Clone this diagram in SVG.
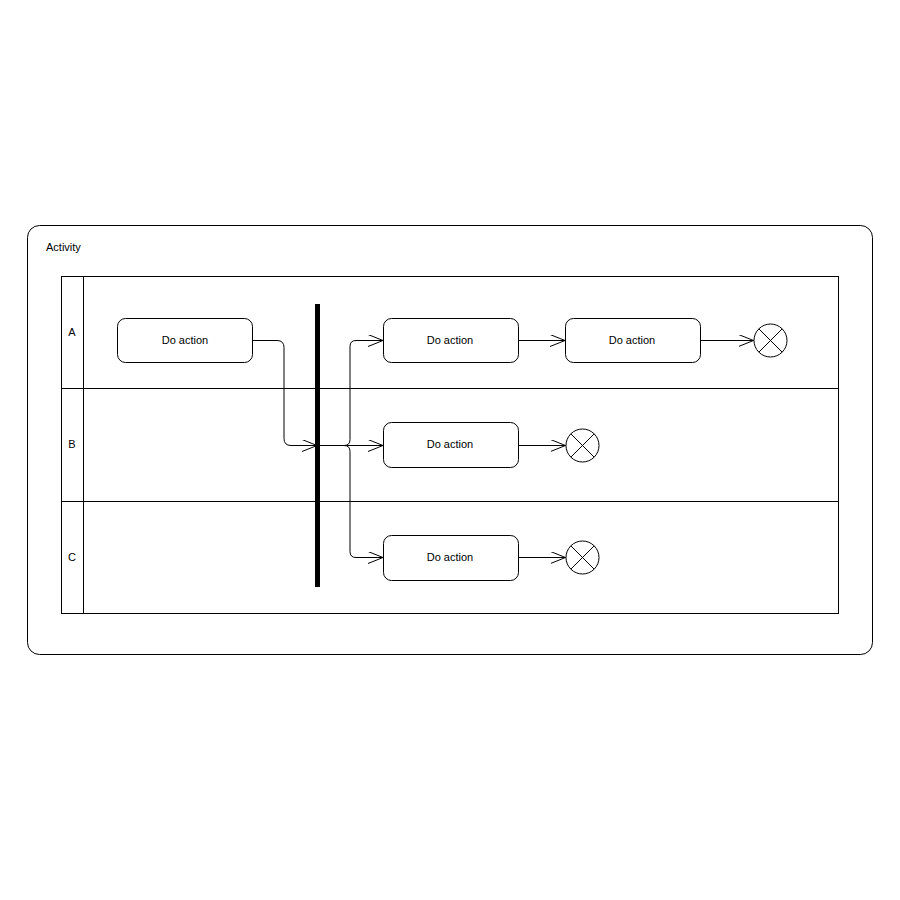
<svg xmlns="http://www.w3.org/2000/svg" width="900" height="900" viewBox="0 0 900 900">
<defs>
<marker id="open" viewBox="0 0 16 12" refX="15" refY="6" markerWidth="16" markerHeight="12" markerUnits="userSpaceOnUse" orient="auto">
<path d="M0,0 L15,6 L0,12" fill="none" stroke="#000" stroke-width="1"/>
</marker>
<g id="finalSym">
<circle cx="0" cy="0" r="16.5" fill="#fff" stroke="#000" stroke-width="1"/>
<path d="M-11.7,-11.7 L11.7,11.7 M-11.7,11.7 L11.7,-11.7" stroke="#000" stroke-width="1"/>
</g>
</defs>
<style>
text{font-family:"Liberation Sans",Arial,sans-serif;font-size:11px;fill:#000}
.act{fill:#fff;stroke:#000;stroke-width:1}
.ln{fill:none;stroke:#000;stroke-width:1}
.edge{fill:none;stroke:#000;stroke-width:1;marker-end:url(#open)}
</style>
<rect width="900" height="900" fill="#fff"/>
<g id="frame">
<rect x="27.5" y="225.5" width="845" height="429" rx="12" class="ln"/>
<text x="46" y="251">Activity</text>
</g>
<g id="pool">
<rect x="61.5" y="276.5" width="777" height="337" class="ln"/>
<line x1="83.5" y1="276.5" x2="83.5" y2="613.5" class="ln"/>
<line x1="61.5" y1="388.5" x2="838.5" y2="388.5" class="ln"/>
<line x1="61.5" y1="501.5" x2="838.5" y2="501.5" class="ln"/>
</g>
<g id="laneA"><text x="72" y="336" text-anchor="middle">A</text></g>
<g id="laneB"><text x="72" y="448" text-anchor="middle">B</text></g>
<g id="laneC"><text x="72" y="561" text-anchor="middle">C</text></g>
<g id="connectors">
<path class="edge" d="M252,340.5 H277 Q284,340.5 284,347.5 V438.5 Q284,445.5 291,445.5 H317"/>
<path class="edge" d="M317,445.5 H344 Q350,445.5 350,439.5 V346.5 Q350,340.5 356,340.5 H383"/>
<path class="edge" d="M317,445.5 H383"/>
<path class="edge" d="M317,445.5 H344 Q350,445.5 350,451.5 V551.5 Q350,557.5 356,557.5 H383"/>
<path class="edge" d="M518,340.5 H565"/>
<path class="edge" d="M700,340.5 H753.5"/>
<path class="edge" d="M518,445.5 H565.5"/>
<path class="edge" d="M518,557.5 H565.5"/>
</g>
<g id="action1">
<rect x="117.5" y="318.5" width="135" height="44" rx="8" class="act"/>
<text x="185" y="344" text-anchor="middle">Do action</text>
</g>
<g id="fork">
<rect x="315" y="304" width="5" height="283" fill="#000"/>
</g>
<g id="action2">
<rect x="383.5" y="318.5" width="135" height="44" rx="8" class="act"/>
<text x="450" y="344" text-anchor="middle">Do action</text>
</g>
<g id="action3">
<rect x="565.5" y="318.5" width="135" height="44" rx="8" class="act"/>
<text x="632" y="344" text-anchor="middle">Do action</text>
</g>
<g id="final1"><use href="#finalSym" x="770.5" y="340.5"/></g>
<g id="action4">
<rect x="383.5" y="422.5" width="135" height="45" rx="8" class="act"/>
<text x="450" y="448" text-anchor="middle">Do action</text>
</g>
<g id="final2"><use href="#finalSym" x="582.5" y="445.5"/></g>
<g id="action5">
<rect x="383.5" y="535.5" width="135" height="45" rx="8" class="act"/>
<text x="450" y="561" text-anchor="middle">Do action</text>
</g>
<g id="final3"><use href="#finalSym" x="582.5" y="557.5"/></g>
</svg>
